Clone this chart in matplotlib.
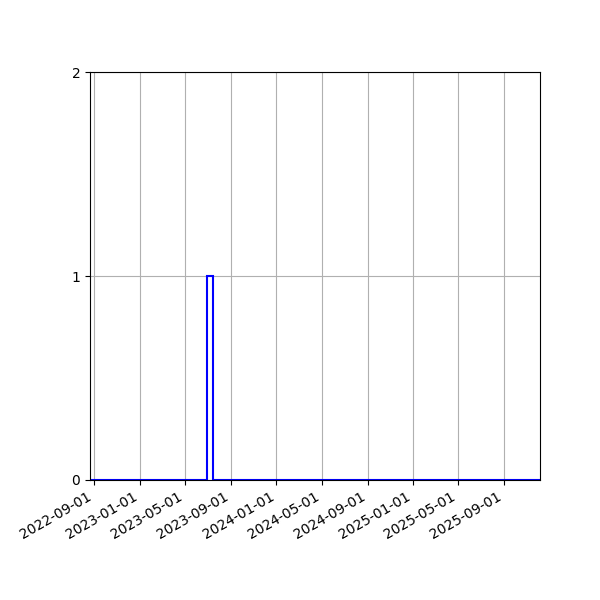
import matplotlib
matplotlib.use("Agg")
import matplotlib.pyplot as plt
import matplotlib.dates as mdates
import numpy as np

# observed event dates (one event in mid 2023)
event_dates = ["2023-07-08"]
range_start = "2022-08-21"
range_end = "2025-12-06"
n_bins = 77
y_ticks = [0, 1, 2]

dates = mdates.datestr2num(event_dates)
lo, hi = mdates.datestr2num([range_start, range_end])

fig, ax = plt.subplots(figsize=(6, 6), dpi=100)
ax.hist(dates, bins=n_bins, range=(lo, hi), histtype="step",
        color="blue", linewidth=1.5)
ax.set_xlim(lo, hi)
ax.set_ylim(0, 2)
ax.set_yticks(y_ticks)
ax.xaxis.set_major_locator(mdates.MonthLocator(bymonth=[1, 5, 9]))
ax.xaxis.set_major_formatter(mdates.DateFormatter("%Y-%m-%d"))
ax.grid(True)
fig.autofmt_xdate()
fig.subplots_adjust(left=0.15, right=0.9, top=0.88, bottom=0.2)
fig.savefig("out.png")
